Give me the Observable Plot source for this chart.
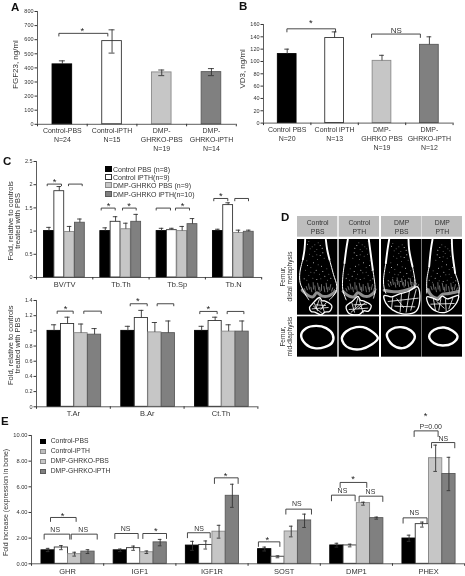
<!DOCTYPE html>
<html><head><meta charset="utf-8">
<script src="https://cdn.jsdelivr.net/npm/d3@7"></script>
<script src="https://cdn.jsdelivr.net/npm/@observablehq/plot@0.6"></script>
<style>
html,body{margin:0;padding:0;background:#fff;overflow:hidden}
#fig{position:relative;width:465px;height:576px;font-family:"Liberation Sans",Arial,sans-serif;color:#333;filter:blur(0.3px)}
.plate{position:absolute;font-weight:bold;font-size:11.5px;color:#111;line-height:1}
.lg{position:absolute;white-space:nowrap;line-height:1}
.sw{position:absolute;box-sizing:border-box}
</style></head><body><div id="fig"></div>
<script>
// ---------- Panel A ----------
const aLabels = ["Control-PBS\nN=24","Control-iPTH\nN=15","DMP-\nGHRKO-PBS\nN=19","DMP-\nGHRKO-iPTH\nN=14"];
const aValues = [425,590,368,370];
const aLow    = [null,505,345,345];
const aHigh   = [450,670,385,395];
const aBrackets = [[0.43,1.415,645,626]];
const aNotes = [[0.9,678,"*"]];
// ---------- Panel B ----------
const bLabels = ["Control PBS\nN=20","Control iPTH\nN=13","DMP-\nGHRKO PBS\nN=19","DMP-\nGHRKO-iPTH\nN=12"];
const bValues = [112,138,101,127];
const bLow    = [null,null,null,null];
const bHigh   = [120,148,110,140];
const bBrackets = [[0.494,1.52,153,148],[2.28,3.31,144.5,139]];
const bNotes = [[1,165,"*"],[2.8,151,"NS"]];
// ---------- Panel C, upper ----------
const c1Labels = ["BV/TV","Tb.Th","Tb.Sp","Tb.N"];
const c1Mean = [[1,1,1,1],[1.86,1.2,1.02,1.56],[0.98,1.04,1,0.96],[1.18,1.2,1.15,0.985]];
const c1High = [[1.08,1.07,1.06,1.04],[1.96,1.31,1.06,1.61],[1.1,1.17,1.1,1.02],[1.26,1.36,1.27,1.02]];
const c1Brackets = [[0.19,0.444,2.013,1.977],[0.568,0.812,2.013,1.977],[1.149,1.398,1.496,1.453],[1.528,1.771,1.496,1.453],[2.126,2.38,1.496,1.453],[2.469,2.718,1.496,1.453],[3.149,3.398,1.703,1.653],[3.522,3.766,1.703,1.653]];
const c1Notes = [[0.32,2.1,"*"],[1.279,1.58,"*"],[1.646,1.58,"*"],[2.593,1.58,"*"],[3.274,1.79,"*"]];
// ---------- Panel C, lower ----------
const c2Labels = ["T.Ar","B.Ar","Ct.Th"];
const c2Mean = [[1,1,1],[1.09,1.17,1.13],[0.97,0.98,0.99],[0.95,0.97,0.99]];
const c2High = [[1.08,1.06,1.06],[1.18,1.27,1.18],[1.09,1.11,1.08],[1.03,1.13,1.13]];
const c2Brackets = [[0.28,0.497,1.26,1.23],[0.641,0.877,1.26,1.23],[1.27,1.5,1.357,1.33],[1.635,1.86,1.357,1.33],[2.213,2.448,1.256,1.226],[2.584,2.81,1.256,1.226]];
const c2Notes = [[0.393,1.32,"*"],[1.373,1.414,"*"],[2.33,1.32,"*"]];
const cLegend = ["Control PBS (n=8)","Control iPTH(n=9)","DMP-GHRKO PBS (n=9)","DMP-GHRKO iPTH(n=10)"];
// ---------- Panel E ----------
const eLabels = ["GHR","IGF1","IGF1R","SOST","DMP1","PHEX"];
const eMean = [[1.05,1.05,1.42,1.14,1.43,1.97],[1.27,1.22,1.47,0.55,1.43,3.09],[0.75,0.9,2.5,2.52,4.73,8.23],[0.95,1.67,5.3,3.38,3.56,7.0]];
const eLow  = [[0.95,0.95,1.05,1.0,1.3,1.75],[1.1,1.05,1.15,0.47,1.32,2.86],[0.6,0.8,2,2.1,4.57,7.2],[0.8,1.4,4.4,2.83,3.48,5.7]];
const eHigh = [[1.2,1.15,1.75,1.3,1.6,2.23],[1.42,1.38,1.78,0.62,1.53,3.25],[0.9,1,3,2.93,4.8,9.25],[1.1,1.9,6.2,3.87,3.64,8.3]];
const eBrackets = [[0.175,0.53,2.31,1.92],[0.55,0.91,2.31,1.92],[0.263,0.618,3.61,3.3],[1.154,1.477,2.36,1.97],[1.542,1.87,2.36,1.97],[2.16,2.475,2.42,2.03],[2.534,2.862,6.7,6.26],[3.143,3.44,1.71,1.35],[3.523,3.878,4.26,3.87],[4.155,4.483,5.35,4.91],[4.538,4.866,5.27,4.86],[4.275,4.644,6.34,5.95],[5.147,5.479,3.58,3.17],[5.541,5.863,9.45,9.04],[5.3,5.632,10.36,9.92]];
const eNotes = [[0.328,2.65,"NS"],[0.716,2.62,"NS"],[0.429,3.87,"*"],[1.302,2.7,"NS"],[1.722,2.7,"*"],[2.322,2.7,"NS"],[2.687,6.99,"*"],[3.268,2.05,"*"],[3.675,4.65,"NS"],[4.307,5.69,"NS"],[4.695,5.61,"NS"],[4.455,6.73,"*"],[5.304,3.97,"NS"],[5.705,9.77,"NS"],[5.53,10.68,"P=0.00"],[5.46,11.66,"*"]];
const eLegend = ["Control-PBS","Control-iPTH","DMP-GHRKO-PBS","DMP-GHRKO-iPTH"];
// ---------- Panel D ----------
const dHeaders = ["Control\nPBS","Control\nPTH","DMP\nPBS","DMP\nPTH"];
const dRows = ["Femur,\ndistal metaphysis","Femur,\nmid-diaphysis"];
const dColumns = [0,125,252,374];
const dRings = [
  [[11,286],[26,266],[56,259],[86,266],[106,286],[104,309],[81,323],[51,326],[24,313]],
  [[8,296],[21,276],[51,263],[81,266],[116,296],[96,316],[66,329],[31,326],[14,313]],
  [[16,286],[30,269],[58,263],[88,273],[100,291],[88,313],[63,326],[33,316]],
  [[21,291],[36,271],[66,264],[91,274],[106,291],[91,311],[61,318],[36,311]]
];
const dShafts = [
  [[[23,0],[21,30],[16,60]],[[85,0],[89,30],[96,60]]],
  [[[26,0],[21,31],[16,71]],[[89,0],[93,31],[101,91]]],
  [[[23,0],[18,31],[13,71]],[[81,0],[83,31],[93,81]]],
  [[[31,0],[26,31],[21,81]],[[89,0],[91,41],[99,101]]]
];
const dCortex = [
  [[[16,60],[7,100],[8,130],[21,160],[34,181]],[[96,60],[108,105],[118,140],[114,160],[96,181]]],
  [[[16,71],[11,111],[11,151],[21,181]],[[101,91],[108,151],[103,176]]],
  [[[13,71],[6,121],[8,146],[13,161]],[[93,81],[101,131],[98,146]]],
  [[[21,81],[14,121],[14,161]],[[99,101],[111,141],[109,171]]]
];
const dPlates = [
  [[14,152],[32,168],[46,172],[58,160],[74,170],[92,170],[114,156]],
  [[12,156],[30,170],[44,172],[56,160],[74,170],[90,170],[106,158]],
  [[8,152],[30,156],[55,156],[80,150],[100,142]],
  [[16,150],[30,170],[46,176],[62,164],[80,162],[108,156]]
];
const dEpiphyses = [
  [[36,204],[44,194],[51,186],[66,174],[74,184],[81,184],[103,199],[96,216],[82,218],[71,226],[52,218],[41,216]],
  [[21,201],[40,185],[56,171],[64,182],[75,185],[96,198],[88,215],[74,214],[60,225],[30,222]],
  [[8,168],[30,172],[52,164],[80,156],[108,142],[115,181],[103,216],[63,223],[33,211],[13,191]],
  [[14,172],[32,176],[48,182],[60,170],[75,178],[109,168],[100,195],[72,218],[44,216],[20,196]]
];
const dStruts = [
  [[[50,190],[60,214]],[[66,178],[56,206]],[[70,184],[80,216]],[[86,190],[70,210]],[[44,208],[92,204]],[[56,196],[84,198]],[[48,200],[74,222]]],
  [[[38,190],[46,218]],[[56,176],[48,204]],[[60,180],[72,220]],[[78,190],[58,206]],[[30,210],[86,206]],[[44,196],[82,194]],[[36,218],[62,196]]],
  [[[34,172],[30,208]],[[60,164],[56,216]],[[84,154],[74,218]],[[104,150],[88,212]],[[20,186],[110,176]],[[40,200],[100,202]],[[46,178],[66,204]]],
  [[[34,180],[40,212]],[[56,178],[50,212]],[[70,180],[72,214]],[[92,176],[80,208]],[[26,194],[96,192]],[[44,186],[66,206]]]
];
const dSpikes = [[26,140,30,152],[33,132,36,150],[40,142,43,158],[47,128,48,150],[52,138,54,156],[60,130,64,152],[66,142,68,158],[72,134,72,154],[79,140,82,158],[86,130,88,150],[92,142,90,158],[100,134,96,152],[106,144,102,156],[20,146,24,156],[112,148,108,156]];
const dSpecks = [[30,14],[44,22],[62,10],[74,26],[52,36],[36,44],[68,48],[80,56],[28,64],[48,70],[60,60],[40,84],[72,80],[88,88],[24,92],[56,92],[34,108],[66,104],[82,110],[46,116],[94,104],[20,118],[58,30],[38,28],[76,40],[34,6],[52,16],[68,18],[46,50],[58,46],[30,78],[62,76],[50,100],[76,96],[40,98],[28,122],[58,120],[70,118],[90,122],[100,116]];

// ---------- shared drawing ----------
const FONT = "Liberation Sans, Arial, sans-serif";
const INK = "#333";
const FILLS = ["#000","#fff","#c6c6c6","#808080"];
const EDGES = ["#000","#333","#8a8a8a","#5a5a5a"];
const host = document.getElementById("fig");

function panel(o){
  const {x,top,bottom,band,n,ymax,ticks,yFormat,series,labels,brackets,notes,title,titleY,titleDx,
         tickFont,labelFont,titleFont,pad,noteFont,capW,lineH} = o;
  const ml=30, mr=4, mt=12, mb=32;
  const path = brackets.flatMap((b,i)=>[[b[0],b[3],i],[b[0],b[2],i],[b[1],b[2],i],[b[1],b[3],i]]);
  const centers = d3.range(n).map(i=>i+0.5);
  const marks = [];
  series.forEach((data,k)=>{
    marks.push(Plot.rectY(data,{x1:"x1",x2:"x2",y1:0,y2:"v",fill:FILLS[k],stroke:EDGES[k],strokeWidth:0.9}));
    marks.push(Plot.ruleX(data.filter(d=>d.low!=null),{x:"xc",y1:"low",y2:"high",stroke:INK,strokeWidth:0.9}));
    marks.push(Plot.ruleX(data.filter(d=>d.low==null),{x:"xc",y1:"v",y2:"high",stroke:INK,strokeWidth:0.9}));
    marks.push(Plot.ruleY(data,{y:"high",x1:d=>d.xc-capW,x2:d=>d.xc+capW,stroke:INK,strokeWidth:0.9}));
    marks.push(Plot.ruleY(data.filter(d=>d.low!=null),{y:"low",x1:d=>d.xc-capW,x2:d=>d.xc+capW,stroke:INK,strokeWidth:0.9}));
  });
  marks.push(
    Plot.ruleX([0],{stroke:INK,strokeWidth:0.8}),
    Plot.ruleY([0],{stroke:INK,strokeWidth:0.8}),
    Plot.axisY({ticks,tickSize:2.5,tickPadding:1.5,fontSize:tickFont,label:null,tickFormat:yFormat,stroke:INK,fill:INK}),
    Plot.axisX({ticks:d3.range(0,n+1),tickSize:2.5,label:null,tickFormat:()=>"",stroke:INK}),
    Plot.axisX({ticks:centers,tickSize:0,tickPadding:pad,fontSize:labelFont,label:null,lineHeight:lineH||1.2,fill:INK,tickFormat:c=>labels[c-0.5]}),
    Plot.line(path,{x:"0",y:"1",z:"2",stroke:INK,strokeWidth:0.9}),
    Plot.text(notes.filter(d=>d[2]!=="*"),{x:"0",y:"1",text:"2",fontSize:noteFont,fill:INK}),
    Plot.text(notes.filter(d=>d[2]==="*"),{x:"0",y:"1",text:"2",fontSize:9.5,fill:"#222",dy:2}),
    Plot.text([title],{x:0,y:titleY,text:d=>d,rotate:-90,dx:titleDx,fontSize:titleFont,fill:INK})
  );
  const svg = Plot.plot({
    width:band*n+ml+mr,height:bottom-top+mt+mb,marginLeft:ml,marginRight:mr,marginTop:mt,marginBottom:mb,
    x:{domain:[0,n],axis:null},y:{domain:[0,ymax],axis:null},
    style:{position:"absolute",left:(x-ml)+"px",top:(top-mt)+"px",background:"none",overflow:"visible",maxWidth:"none",fontFamily:FONT},
    marks
  });
  host.appendChild(svg);
}
function groupSeries(mean,low,high,start,step,width){
  return mean.map((row,k)=>row.map((v,i)=>{
    const x1=i+start+k*step;
    return {x1,x2:x1+width,xc:x1+width/2,v,low:low?low[k][i]:null,high:high[k][i]};
  }));
}
function singleSeries(values,low,high,width){
  return values.map((_,i)=>[{x1:i+0.5-width/2,x2:i+0.5+width/2,xc:i+0.5,v:values[i],low:low[i],high:high[i]}]);
}
function plate(t,x,y){const d=document.createElement("div");d.className="plate";d.textContent=t;d.style.left=x+"px";d.style.top=y+"px";host.appendChild(d);}
function legend(items,sx,size,tx,rows,font,colors,edges){
  items.forEach((t,i)=>{
    const s=document.createElement("div");s.className="sw";
    s.style.cssText=`left:${sx}px;top:${rows[i]-size/2}px;width:${size}px;height:${size}px;background:${colors[i]};border:1px solid ${edges[i]}`;
    host.appendChild(s);
    const d=document.createElement("div");d.className="lg";d.textContent=t;
    d.style.cssText=`left:${tx}px;top:${rows[i]-font/2}px;font-size:${font}px`;
    host.appendChild(d);
  });
}

// ---------- Panels ----------
panel({x:36.7,top:10.5,bottom:123.3,band:49.7,n:4,ymax:800,ticks:d3.range(0,801,100),yFormat:d=>d,
  series:singleSeries(aValues,aLow,aHigh,0.395),labels:aLabels,brackets:aBrackets,notes:aNotes,
  title:"FGF23, ng/ml",titleY:424,titleDx:-22,tickFont:5.5,labelFont:7,titleFont:8,pad:2.5,noteFont:8,capW:0.06,lineH:1.28});
panel({x:263.3,top:23.7,bottom:122.3,band:47.4,n:4,ymax:160,ticks:d3.range(0,161,20),yFormat:d=>d,
  series:singleSeries(bValues,bLow,bHigh,0.395),labels:bLabels,brackets:bBrackets,notes:bNotes,
  title:"VD3, ng/ml",titleY:88,titleDx:-21,tickFont:5.5,labelFont:7,titleFont:8,pad:2.5,noteFont:8,capW:0.05,lineH:1.28});
panel({x:36,top:160.7,bottom:276.7,band:56.3,n:4,ymax:2.5,ticks:[0,0.5,1,1.5,2,2.5],yFormat:d=>d,
  series:groupSeries(c1Mean,null,c1High,0.134,0.183,0.175),labels:c1Labels,brackets:c1Brackets,notes:c1Notes,
  title:"Fold, relative to controls\ntreated with PBS",titleY:1.22,titleDx:-22.5,tickFont:5.5,labelFont:7.5,titleFont:7.5,pad:3,noteFont:8,capW:0.04});
panel({x:36,top:300,bottom:406.3,band:73.8,n:3,ymax:1.4,ticks:[0,0.2,0.4,0.6,0.8,1,1.2,1.4],yFormat:d=>d,
  series:groupSeries(c2Mean,null,c2High,0.149,0.183,0.178),labels:c2Labels,brackets:c2Brackets,notes:c2Notes,
  title:"Fold, relative to controls\ntreated with PBS",titleY:0.81,titleDx:-22.5,tickFont:5.5,labelFont:7.5,titleFont:7.5,pad:3,noteFont:8,capW:0.035});
panel({x:30.7,top:434.7,bottom:563,band:72.2,n:6,ymax:10,ticks:[0,2,4,6,8,10],yFormat:d3.format(".2f"),
  series:groupSeries(eMean,eLow,eHigh,0.138,0.184,0.184),labels:eLabels,brackets:eBrackets,notes:eNotes,
  title:"Fold increase (expression in bone)",titleY:4.78,titleDx:-26,tickFont:5.7,labelFont:7.5,titleFont:7,pad:4,noteFont:7,capW:0.025});

// ---------- Panel D, drawn through a shared image-unit scale ----------
(function(){
  const C = 121, W = 495, HTOP = -69, HBOT = 354;
  const col = dColumns.map((x0,i)=>({i,x0}));
  const at = (i,p)=>({x:dColumns[i]+p[0],y:p[1]});
  const lines = (sets,stroke,strokeWidth,curve) => sets.flatMap((lineSet,i)=>lineSet.map(pts=>
    Plot.line(pts.map(p=>at(i,p)),{x:"x",y:"y",stroke,strokeWidth,curve})));
  const specks = dColumns.flatMap((x0,i)=>dSpecks.map(([x,y],j)=>({x:x0+(i%2?C-x:x),y:y+(i>1?6:0),o:j%3?0.45:0.85})));
  const spikes = dColumns.flatMap((x0,i)=>dSpikes.map(([a,b,c,d])=>({x1:x0+a,y1:b+(i===2?-14:0),x2:x0+c,y2:d+(i===2?-14:0)})));
  const svg = Plot.plot({
    width:220,height:141,marginLeft:55,marginRight:0,marginTop:0,marginBottom:0,
    x:{domain:[0,W],axis:null},y:{domain:[HTOP,HBOT],reverse:true,axis:null},
    style:{position:"absolute",left:"241.5px",top:"216px",background:"none",overflow:"visible",maxWidth:"none",fontFamily:FONT},
    marks:[
      Plot.rect(col,{x1:"x0",x2:d=>d.x0+C,y1:HTOP,y2:-7,fill:"#bdbdbd"}),
      Plot.rect(col,{x1:"x0",x2:d=>d.x0+C,y1:0,y2:227,fill:"#000"}),
      Plot.rect(col,{x1:"x0",x2:d=>d.x0+C,y1:232,y2:353,fill:"#000"}),
      Plot.text(col,{x:d=>d.x0+C/2,y:-38,text:d=>dHeaders[d.i],fontSize:6.8,fill:INK,lineHeight:1.25}),
      Plot.text([dRows[0]],{x:-34,y:111,text:d=>d,rotate:-90,fontSize:6.5,fill:INK}),
      Plot.text([dRows[1]],{x:-34,y:291,text:d=>d,rotate:-90,fontSize:6.5,fill:INK}),
      Plot.dot(specks,{x:"x",y:"y",r:0.5,fill:"#fff",fillOpacity:"o"}),
      Plot.link(spikes,{x1:"x1",y1:"y1",x2:"x2",y2:"y2",stroke:"#ddd",strokeWidth:0.6,strokeOpacity:0.8}),
      ...dPlates.map((pts,i)=>Plot.line(pts.map(p=>at(i,p)),{x:"x",y:"y",stroke:"#8f8f8f",strokeWidth:3,curve:"catmull-rom"})),
      ...lines(dShafts,"#fff",1.9,"catmull-rom"),
      ...lines(dCortex,"#fff",1.0,"catmull-rom"),
      ...lines(dStruts,"#fff",0.8,"linear"),
      ...dEpiphyses.map((pts,i)=>Plot.line(pts.map(p=>at(i,p)),{x:"x",y:"y",stroke:"#fff",strokeWidth:1.3,curve:"catmull-rom-closed"})),
      ...dRings.map((pts,i)=>Plot.line(pts.map(p=>at(i,p)),{x:"x",y:"y",stroke:"#fff",strokeWidth:2.4,curve:"catmull-rom-closed"}))
    ]
  });
  host.appendChild(svg);
})();

// ---------- Legends and plate letters ----------
legend(cLegend,105,6.5,113,[169,177,185,194],7,FILLS,EDGES);
legend(eLegend,40,5.5,50.7,[441.3,451.3,461.7,471.7],6.8,["#000","#bcbcbc","#c6c6c6","#808080"],["#000","#8a8a8a","#8a8a8a","#5a5a5a"]);
plate("A",11,1.5);plate("B",239,0.5);plate("C",3,155.5);plate("D",281,212);plate("E",1,415.5);
</script></body></html>
